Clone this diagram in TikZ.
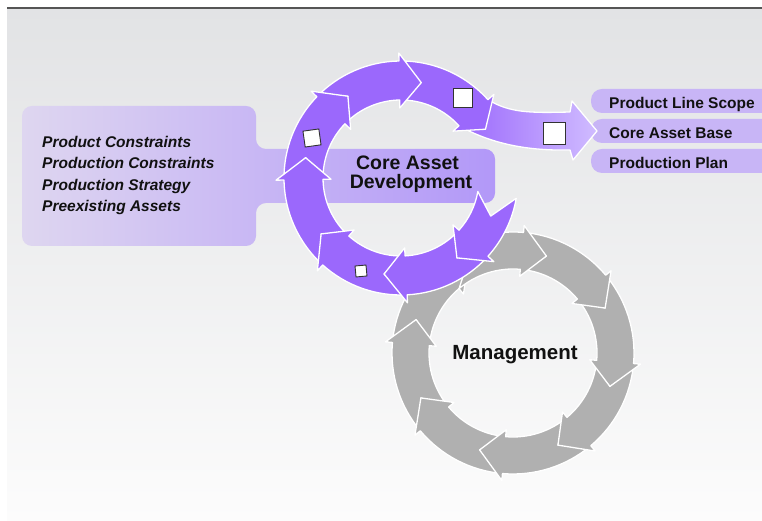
\documentclass[tikz,border=0pt]{standalone}
\usepackage{fontspec}
\setmainfont{Liberation Sans}
\definecolor{purp}{RGB}{155,104,252}
\definecolor{purplight}{RGB}{208,188,255}
\definecolor{gry}{RGB}{176,176,176}
\definecolor{boxL}{RGB}{222,214,240}
\definecolor{boxR}{RGB}{178,152,248}
\definecolor{pill}{RGB}{200,181,246}
\definecolor{bgtop}{RGB}{226,227,229}
\definecolor{bgbot}{RGB}{252,252,252}
\definecolor{rulec}{RGB}{85,85,85}
\definecolor{sqline}{RGB}{50,50,50}
\definecolor{txt}{RGB}{17,17,17}
% ring arrow: #1 style, #2 cx, #3 cy, #4 Rin, #5 Rout, #6 tail angle, #7 tip angle, #8 head angle, #9 flare
\newcommand{\ringarrow}[9]{%
  \pgfmathsetmacro\RAm{(#4+#5)/2}%
  \pgfmathsetmacro\RAhb{#7+#8}%
  \pgfmathsetmacro\RAno{#6-#8}%
  \pgfmathsetmacro\RAoe{#5+#9}%
  \pgfmathsetmacro\RAie{#4-#9}%
  \path[#1,shift={(#2,#3)}] (#6:#5) arc[start angle=#6,end angle=\RAhb,radius=#5pt]
    -- (\RAhb:\RAoe) -- (#7:\RAm) -- (\RAhb:\RAie) -- (\RAhb:#4)
    arc[start angle=\RAhb,end angle=#6,radius=#4pt] -- (\RAno:\RAm) -- cycle;
}
\begin{document}
\begin{tikzpicture}[x=1pt,y=1pt,
  purpseg/.style={fill=purp,draw=white,line width=1.3pt,line join=round},
  grayseg/.style={fill=gry,draw=white,line width=1.3pt,line join=round},
  sqbox/.style={draw=sqline,fill=white,line width=0.9pt,inner sep=0pt,minimum size=#1},
  pillbox/.style={fill=pill,rounded corners=11pt},
  inputtxt/.style={anchor=base west,inner sep=0pt,text=txt,font=\fontsize{15.5}{18}\selectfont\bfseries\itshape},
  outtxt/.style={anchor=base west,inner sep=0pt,text=txt,font=\fontsize{15.5}{18}\selectfont\bfseries},
  bigtxt/.style={anchor=base,inner sep=0pt,text=txt,font=\fontsize{19.5}{22}\selectfont\bfseries}]
\useasboundingbox (0,0) rectangle (762,521);
\clip (0,0) rectangle (762,521);
% background
\fill[white] (0,0) rectangle (762,521);
\shade[top color=bgtop,bottom color=bgbot] (7,0) rectangle (762,512.5);
\draw[rulec,line width=1.6pt] (7,512.8) -- (762,512.8);

% input box with band
\shade[left color=boxL,right color=boxR,rounded corners=10pt]
  (22,275) -- (256,275) -- (256,318) -- (495,318) -- (495,372) -- (256,372)
  -- (256,415) -- (22,415) -- cycle;

% output pills
\fill[pillbox] (591,408) rectangle (790,432);
\fill[pillbox] (591,378) rectangle (790,402);
\fill[pillbox] (591,348) rectangle (790,372);

% management ring (grey)
\foreach \tp in {-244,-199,-154,-109,-64,-19,26,71}{
  \pgfmathsetmacro\ta{\tp+59}
  \ringarrow{grayseg}{513}{168}{84}{121}{\ta}{\tp}{14}{7}
}

% core asset development ring (purple)
\shadedraw[draw=white,line width=1.3pt,line join=round,left color=purp,right color=purplight]
  (487.9,421.3) .. controls (510,408) and (530,408) .. (570,409)
  -- (572,420) -- (597,390) -- (573,361) -- (570,371)
  .. controls (525,370) and (490,378) .. (459.0,395.2)
  -- (485.4,391.8) -- cycle;
\ringarrow{purpseg}{401}{343}{78}{117}{-269}{-330}{12}{8}
\ringarrow{purpseg}{401}{343}{78}{117}{-224}{-282}{13}{8}
\ringarrow{purpseg}{401}{343}{78}{117}{-179}{-237}{13}{8}
\ringarrow{purpseg}{401}{343}{78}{117}{-132}{-192}{13}{8}
\ringarrow{purpseg}{401}{343}{78}{117}{-87}{-145}{13}{8}
\ringarrow{purpseg}{401}{343}{78}{117}{-42}{-100}{13}{8}
\ringarrow{purpseg}{401}{343}{78}{117}{-10}{-55}{13}{8}

% work-product squares
\node[sqbox=16pt,rotate=8] (sqB) at (312,383) {};
\node[sqbox=19pt] (sqD) at (463,423) {};
\node[sqbox=22pt] (sqS) at (554,388) {};
\node[sqbox=11pt,rotate=5] (sqG) at (361,250) {};

% texts
\node[inputtxt] (in1) at (42,373) {Product Constraints};
\node[inputtxt] (in2) at (42,352) {Production Constraints};
\node[inputtxt] (in3) at (42,330.5) {Production Strategy};
\node[inputtxt] (in4) at (42,309) {Preexisting Assets};

\node[outtxt] (out1) at (609,412.7) {Product Line Scope};
\node[outtxt] (out2) at (609,382.7) {Core Asset Base};
\node[outtxt] (out3) at (609,352.7) {Production Plan};

\node[bigtxt] (cad1) at (407.5,351.5) {Core Asset};
\node[bigtxt] (cad2) at (411,332) {Development};
\node[bigtxt,font=\fontsize{20.5}{22}\selectfont\bfseries] (mgmt) at (515,161.7) {Management};
\end{tikzpicture}
\end{document}
